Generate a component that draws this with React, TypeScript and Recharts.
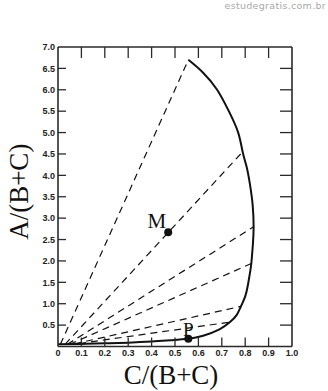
import React from "react";
import { ComposedChart, Line, Scatter, XAxis, YAxis, Label } from "recharts";

// C/(B+C) axis ticks
const xTicks = [0, 0.1, 0.2, 0.3, 0.4, 0.5, 0.6, 0.7, 0.8, 0.9, 1.0];
const xInnerTicks = [0.1, 0.2, 0.3, 0.4, 0.5, 0.6, 0.7, 0.8, 0.9];
// A/(B+C) axis ticks
const yTicks = [0.5, 1.0, 1.5, 2.0, 2.5, 3.0, 3.5, 4.0, 4.5, 5.0, 5.5, 6.0, 6.5, 7.0];
const yInnerTicks = [0.5, 1.0, 1.5, 2.0, 2.5, 3.0, 3.5, 4.0, 4.5, 5.0, 5.5, 6.0, 6.5];

// solid boundary curve
const boundary = [
  { x: 0.0, y: 0.05 },
  { x: 0.1, y: 0.06 },
  { x: 0.2, y: 0.075 },
  { x: 0.3, y: 0.09 },
  { x: 0.4, y: 0.115 },
  { x: 0.48, y: 0.145 },
  { x: 0.557, y: 0.18 },
  { x: 0.62, y: 0.25 },
  { x: 0.69, y: 0.4 },
  { x: 0.735, y: 0.57 },
  { x: 0.764, y: 0.74 },
  { x: 0.782, y: 0.94 },
  { x: 0.8, y: 1.17 },
  { x: 0.812, y: 1.45 },
  { x: 0.82, y: 1.71 },
  { x: 0.826, y: 1.94 },
  { x: 0.833, y: 2.4 },
  { x: 0.836, y: 2.8 },
  { x: 0.832, y: 3.3 },
  { x: 0.82, y: 3.8 },
  { x: 0.806, y: 4.2 },
  { x: 0.789, y: 4.55 },
  { x: 0.77, y: 5.0 },
  { x: 0.73, y: 5.5 },
  { x: 0.68, y: 6.0 },
  { x: 0.62, y: 6.4 },
  { x: 0.557, y: 6.7 },
];

// dashed tie lines (start, end)
const tieLines = [
  [{ x: 0.01, y: 0.05 }, { x: 0.557, y: 6.7 }],
  [{ x: 0.03, y: 0.05 }, { x: 0.789, y: 4.55 }],
  [{ x: 0.04, y: 0.05 }, { x: 0.836, y: 2.8 }],
  [{ x: 0.05, y: 0.05 }, { x: 0.826, y: 1.94 }],
  [{ x: 0.07, y: 0.06 }, { x: 0.782, y: 0.94 }],
  [{ x: 0.09, y: 0.07 }, { x: 0.735, y: 0.57 }],
];

const markedPoints = [
  { name: "M", x: 0.471, y: 2.67 },
  { name: "P", x: 0.557, y: 0.18 },
];

const INK = "#111";
const FRAME = "#2a2a2a";
const sans = "Liberation Sans, Arial, sans-serif";
const serif = "Liberation Serif, Times New Roman, serif";

const fmtX = (v: number) => (v === 0 ? "0" : v.toFixed(1));
const fmtY = (v: number) => v.toFixed(1);
const isInner = (v: number, list: number[]) => list.some((t) => Math.abs(t - v) < 1e-9);

function BottomTick(props: any) {
  const { x, y, payload } = props;
  return (
    <g>
      {isInner(payload.value, xInnerTicks) && <line x1={x} y1={y} x2={x} y2={y - 9} stroke={FRAME} strokeWidth={1.3} />}
      <text x={x} y={y + 3} dy="0.71em" textAnchor="middle" fontFamily={sans} fontSize={9} fontWeight={700} fill="#222">
        {fmtX(payload.value)}
      </text>
    </g>
  );
}

function LeftTick(props: any) {
  const { x, y, payload } = props;
  return (
    <g>
      {isInner(payload.value, yInnerTicks) && <line x1={x} y1={y} x2={x + 8} y2={y} stroke={FRAME} strokeWidth={1.3} />}
      <text x={x - 3} y={y} dy="0.355em" textAnchor="end" fontFamily={sans} fontSize={9} fontWeight={700} fill="#222">
        {fmtY(payload.value)}
      </text>
    </g>
  );
}

function TopTick(props: any) {
  const { x, y } = props;
  return <line x1={x} y1={y} x2={x} y2={y + 11} stroke={FRAME} strokeWidth={1.3} />;
}

function RightTick(props: any) {
  const { x, y } = props;
  return <line x1={x} y1={y} x2={x - 12} y2={y} stroke={FRAME} strokeWidth={1.3} />;
}

function Marker(props: any) {
  const { cx, cy, payload } = props;
  const isM = payload.name === "M";
  return (
    <g>
      <circle cx={cx} cy={cy} r={4} fill={INK} />
      <text
        x={isM ? cx - 2 : cx}
        y={isM ? cy - 4.5 : cy - 3}
        textAnchor={isM ? "end" : "middle"}
        fontFamily={serif}
        fontSize={isM ? 21 : 19}
        fill={INK}
      >
        {payload.name}
      </text>
    </g>
  );
}

const frameLine = { stroke: FRAME, strokeWidth: 1.6 };

export default function App() {
  return (
    <div style={{ position: "absolute", left: 0, top: 0, width: 328, height: 391, background: "#fff" }}>
      <div
        style={{
          position: "absolute",
          right: 2,
          top: 0,
          fontFamily: "DejaVu Sans, sans-serif",
          fontSize: 9.5,
          lineHeight: "12px",
          letterSpacing: 0.3,
          color: "#a9a9a9",
        }}
      >
        estudegratis.com.br
      </div>
      <ComposedChart width={328} height={391} margin={{ top: 0, right: 0, bottom: 0, left: 0 }}>
        <XAxis
          xAxisId="x"
          dataKey="x"
          type="number"
          domain={[0, 1]}
          ticks={xTicks}
          interval={0}
          tick={<BottomTick />}
          tickLine={false}
          tickSize={0}
          tickMargin={0}
          height={44.5}
          axisLine={frameLine}
          allowDataOverflow
        >
          <Label
            content={({ viewBox }: any) => (
              <text x={viewBox.x + viewBox.width / 2 - 4} y={viewBox.y + 37} textAnchor="middle" fontFamily={serif} fontSize={27} fill={INK}>
                C/(B+C)
              </text>
            )}
          />
        </XAxis>
        <XAxis
          xAxisId="xt"
          dataKey="x"
          type="number"
          orientation="top"
          domain={[0, 1]}
          ticks={xInnerTicks}
          interval={0}
          tick={<TopTick />}
          tickLine={false}
          tickSize={0}
          tickMargin={0}
          height={47}
          axisLine={frameLine}
          allowDataOverflow
        />
        <YAxis
          yAxisId="y"
          dataKey="y"
          type="number"
          domain={[0, 7]}
          ticks={yTicks}
          interval={0}
          tick={<LeftTick />}
          tickLine={false}
          tickSize={0}
          tickMargin={0}
          width={58}
          axisLine={frameLine}
          allowDataOverflow
        >
          <Label
            content={({ viewBox }: any) => {
              const lx = viewBox.x + 28;
              const ly = viewBox.y + viewBox.height / 2 - 5;
              return (
                <text x={lx} y={ly} transform={`rotate(-90, ${lx}, ${ly})`} textAnchor="middle" fontFamily={serif} fontSize={27} fill={INK}>
                  A/(B+C)
                </text>
              );
            }}
          />
        </YAxis>
        <YAxis
          yAxisId="yr"
          dataKey="y"
          type="number"
          orientation="right"
          domain={[0, 7]}
          ticks={yInnerTicks}
          interval={0}
          tick={<RightTick />}
          tickLine={false}
          tickSize={0}
          tickMargin={0}
          width={36}
          axisLine={frameLine}
          allowDataOverflow
        />
        {/* hidden carrier so the top/right frame axes get a scale */}
        <Line xAxisId="xt" yAxisId="yr" data={boundary} dataKey="y" stroke="none" dot={false} activeDot={false} isAnimationActive={false} />
        {tieLines.map((seg, i) => (
          <Line
            key={`tie-${i}`}
            xAxisId="x"
            yAxisId="y"
            data={seg}
            dataKey="y"
            type="linear"
            stroke={INK}
            strokeWidth={1.2}
            strokeDasharray="7 5"
            dot={false}
            activeDot={false}
            isAnimationActive={false}
          />
        ))}
        <Line
          xAxisId="x"
          yAxisId="y"
          data={boundary}
          dataKey="y"
          type="natural"
          stroke={INK}
          strokeWidth={2}
          dot={false}
          activeDot={false}
          isAnimationActive={false}
        />
        <Scatter
          xAxisId="x"
          yAxisId="y"
          data={markedPoints}
          dataKey="y"
          shape={Marker}
          isAnimationActive={false}
        />
      </ComposedChart>
    </div>
  );
}
